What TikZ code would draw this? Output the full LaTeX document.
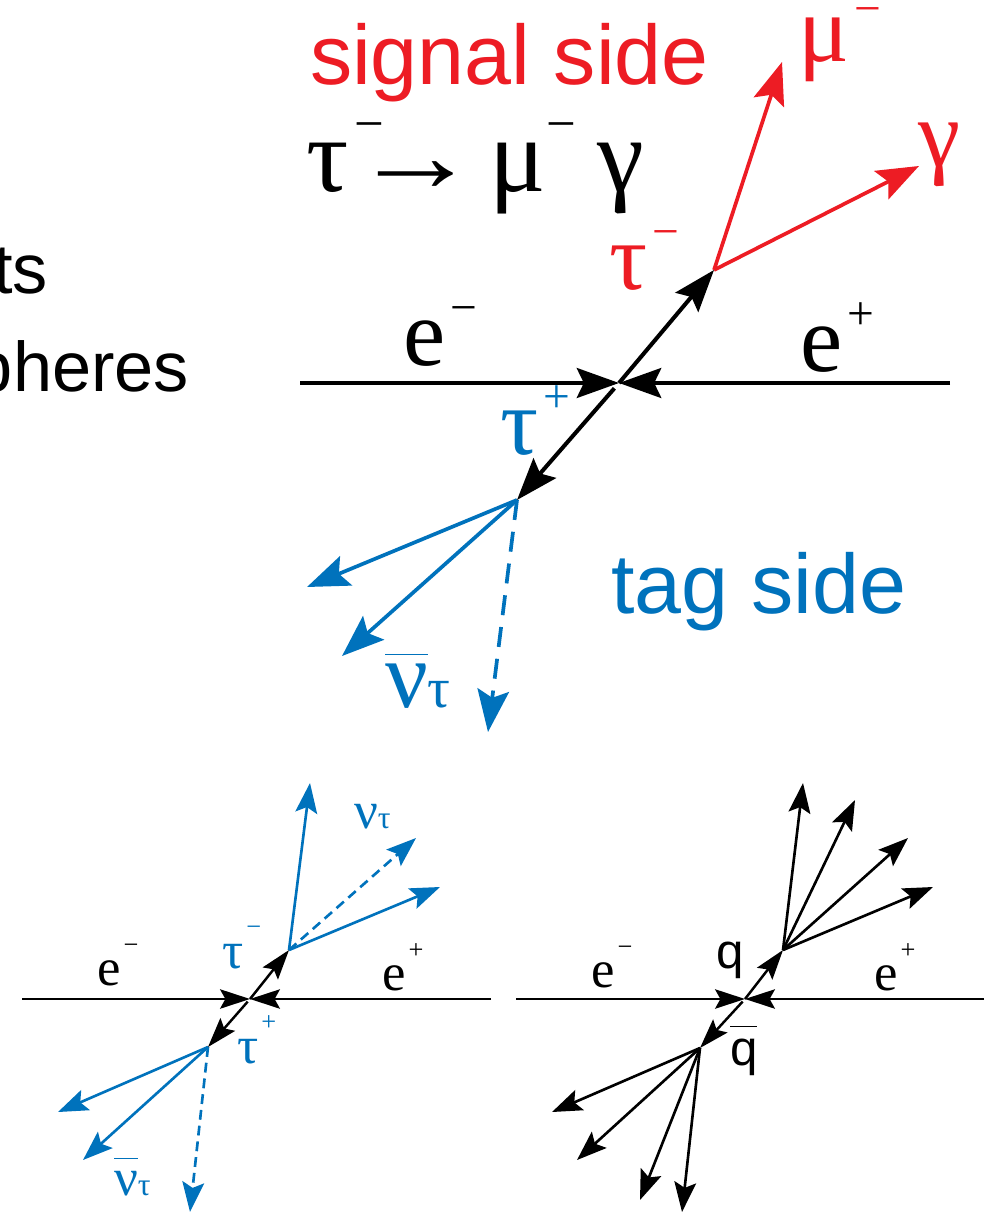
\documentclass[tikz,border=0pt]{standalone}
\usepackage{fontspec}
\setmainfont{Liberation Serif}
\newfontfamily\sansf{Liberation Sans}
\usetikzlibrary{arrows.meta}

\definecolor{sigred}{RGB}{237,28,36}
\definecolor{tagblue}{RGB}{0,114,188}

% superscript charge, subscript flavour, bar over a letter
\newcommand{\sups}[2][0.45em]{\kern0.06em\raisebox{#1}{\scalebox{0.5}{#2}}}
\newcommand{\subs}[1]{\scalebox{0.6}{#1}}
\newcommand{\obar}[2]{$\overline{\hbox{#1}\rule{0pt}{#2}}$}

\tikzset{
  txt/.style={inner sep=0pt, outer sep=0pt},
  beam/.style={line width=1.15pt, -{Stealth[length=12pt, width=8.5pt, inset=2pt]}},
  trk/.style={line width=1.05pt, -{Stealth[length=12pt, width=9pt, inset=2.2pt]}},
  nutrk/.style={trk, dash pattern=on 5.7pt off 3.4pt},
  sbeam/.style={line width=0.7pt, -{Stealth[length=8.5pt, width=5.5pt, inset=1.5pt]}},
  strk/.style={line width=0.75pt, -{Stealth[length=8.5pt, width=6.2pt, inset=1.6pt]}},
  snutrk/.style={strk, dash pattern=on 2.8pt off 1.7pt},
  biglbl/.style={txt, anchor=base west, font=\fontsize{27}{30}\selectfont},
  smalllbl/.style={txt, anchor=base west, font=\fontsize{15}{18}\selectfont},
}

\begin{document}
\begin{tikzpicture}[x=0.01cm, y=-0.01cm]
\useasboundingbox (0,0) rectangle (994,1213);

% left-over text of the slide
\node[txt, anchor=base east, font=\sansf\fontsize{20}{24}\selectfont] (ts) at (48,294) {ts};
\node[txt, anchor=base east, font=\sansf\fontsize{20}{24}\selectfont] (pheres) at (189,392) {pheres};

% titles
\node[txt, anchor=base west, text=sigred, font=\sansf\fontsize{24}{28}\selectfont] (sig) at (310,85) {signal side};
\node[txt, anchor=base west, text=tagblue, font=\sansf\fontsize{24}{28}\selectfont] (tag) at (611,613) {tag side};
\node[txt, anchor=base west, font=\fontsize{30}{34}\selectfont] (decay) at (306,192)
  {τ\sups[0.48em]{−}\kern-0.3em\scalebox{1.2}[1]{→}\hspace{0.1em}μ\kern-0.06em\sups[0.48em]{−}\hspace{0.2em}γ};

% ---- top event: tau -> mu gamma
\coordinate (v) at (619,383);
\coordinate (em) at (300,383);
\coordinate (ep) at (950,383);
\coordinate (tm) at (714,270);
\coordinate (tp) at (517,500);
\coordinate (mu) at (782,62);
\coordinate (ga) at (919,166);
\coordinate (b1) at (307,587);
\coordinate (b2) at (342,656);
\coordinate (nb) at (488,732);

\draw[beam] (em) -- (v);
\draw[beam] (ep) -- (v);
\draw[beam] (v) -- (tm);
\draw[beam, shorten <=2pt] (v) -- (tp);
\draw[trk, sigred] (tm) -- (mu);
\draw[trk, sigred] (tm) -- (ga);
\draw[trk, tagblue] (tp) -- (b1);
\draw[trk, tagblue] (tp) -- (b2);
\draw[nutrk, tagblue] (tp) -- (nb);

\node[biglbl] (lem) at (403,366) {e\sups{−}};
\node[biglbl] (lep) at (800,372) {e\sups{+}};
\node[biglbl, text=sigred] (ltm) at (609,290) {τ\sups{−}};
\node[biglbl, text=tagblue] (ltp) at (500,455) {τ\sups{+}};
\node[biglbl, text=sigred] (lmu) at (798,62) {μ\sups[0.4em]{−}};
\node[biglbl, text=sigred] (lga) at (918,167) {γ};
\node[biglbl, text=tagblue] (lnb) at (385,707) {\obar{ν}{0.5em}\subs{τ}};

% ---- bottom left: tau pair
\coordinate (lv) at (250,999);
\coordinate (lem2) at (22,999);
\coordinate (lep2) at (491,999);
\coordinate (ltm2) at (289,950);
\coordinate (ltp2) at (208,1047);
\coordinate (lu1) at (310,783);
\coordinate (lu2) at (416,838);
\coordinate (lu3) at (440,887);
\coordinate (ld1) at (58,1112);
\coordinate (ld2) at (83,1160);
\coordinate (ld3) at (190,1212);

\draw[sbeam] (lem2) -- (lv);
\draw[sbeam] (lep2) -- (lv);
\draw[sbeam] (lv) -- (ltm2);
\draw[sbeam, shorten <=1pt] (lv) -- (ltp2);
\draw[strk, tagblue] (ltm2) -- (lu1);
\draw[snutrk, tagblue] (ltm2) -- (lu2);
\draw[strk, tagblue] (ltm2) -- (lu3);
\draw[strk, tagblue] (ltp2) -- (ld1);
\draw[strk, tagblue] (ltp2) -- (ld2);
\draw[snutrk, tagblue] (ltp2) -- (ld3);

\node[smalllbl] (tem) at (97,985) {e\sups[0.6em]{−}};
\node[smalllbl] (tep) at (382,990) {e\sups[0.6em]{+}};
\node[smalllbl, text=tagblue] (ttm) at (222,968) {τ\sups[0.62em]{−}};
\node[smalllbl, text=tagblue] (ttp) at (237,1063) {τ\sups[0.62em]{+}};
\node[smalllbl, text=tagblue] (tnu) at (354,828) {ν\subs{τ}};
\node[smalllbl, text=tagblue] (tnb) at (114,1195) {\obar{ν}{0.6em}\subs{τ}};

% ---- bottom right: q qbar
\coordinate (rv) at (745,999);
\coordinate (rem) at (516,999);
\coordinate (rep) at (984,999);
\coordinate (rq) at (783,950);
\coordinate (rqb) at (700,1048);
\coordinate (ru1) at (803,783);
\coordinate (ru2) at (855,800);
\coordinate (ru3) at (908,838);
\coordinate (ru4) at (933,887);
\coordinate (rd1) at (552,1112);
\coordinate (rd2) at (577,1160);
\coordinate (rd3) at (640,1200);
\coordinate (rd4) at (682,1212);

\draw[sbeam] (rem) -- (rv);
\draw[sbeam] (rep) -- (rv);
\draw[sbeam] (rv) -- (rq);
\draw[sbeam, shorten <=1pt] (rv) -- (rqb);
\foreach \t in {ru1,ru2,ru3,ru4} \draw[strk] (rq) -- (\t);
\foreach \t in {rd1,rd2,rd3,rd4} \draw[strk] (rqb) -- (\t);

\node[smalllbl] (qem) at (591,987) {e\sups[0.6em]{−}};
\node[smalllbl] (qep) at (874,990) {e\sups[0.6em]{+}};
\node[txt, anchor=base west, font=\sansf\fontsize{14}{17}\selectfont] (lq) at (716,968) {q};
\node[txt, anchor=base west, font=\sansf\fontsize{14}{17}\selectfont] (lqb) at (730,1065) {\obar{q}{0.68em}};
\end{tikzpicture}
\end{document}
